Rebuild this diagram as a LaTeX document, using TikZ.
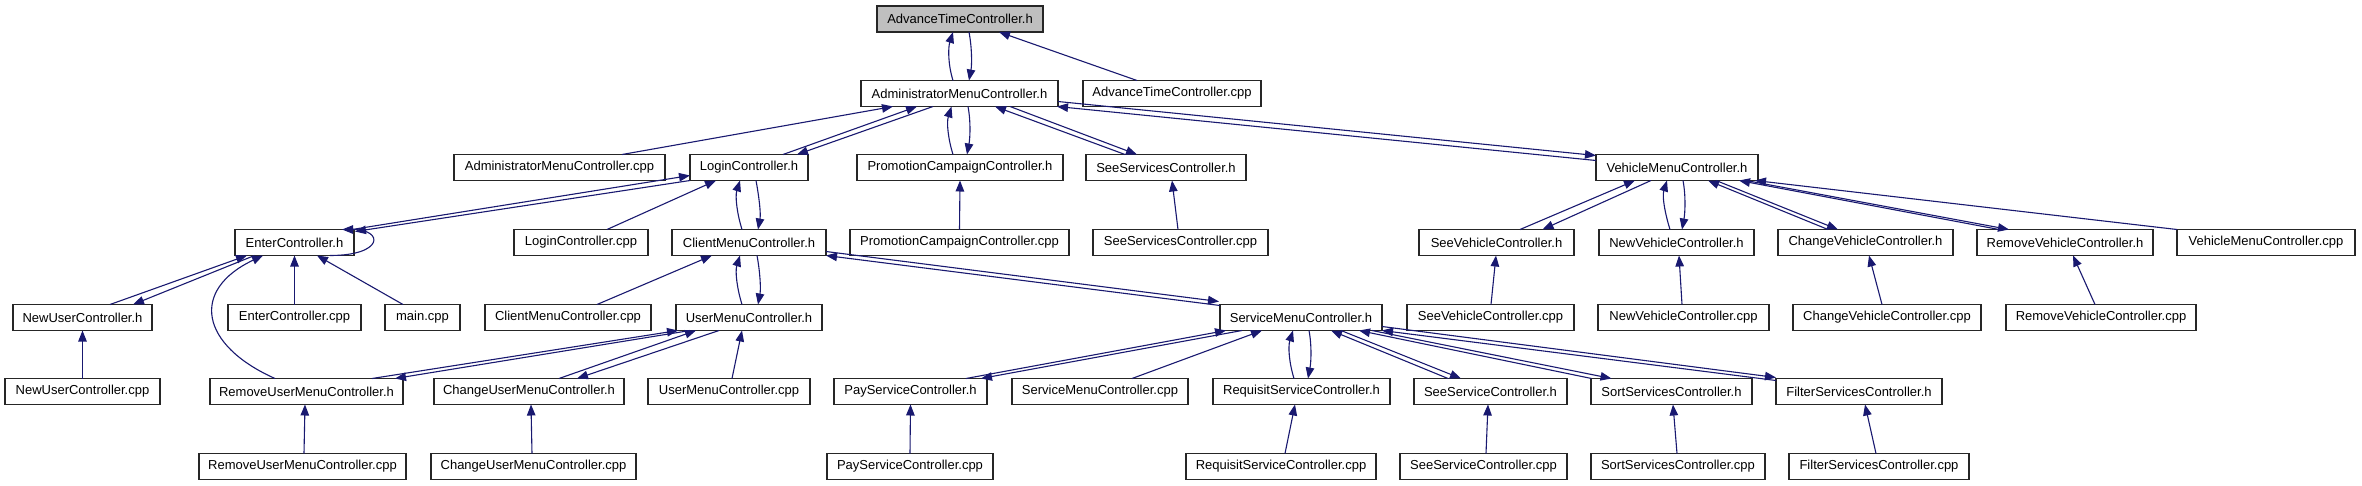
\documentclass[tikz,border=0pt]{standalone}
\usepackage{fontspec}
\setmainfont{Liberation Sans}
\usetikzlibrary{arrows.meta,calc}
\definecolor{edgeblue}{HTML}{191970}
\definecolor{boxgray}{HTML}{BFBFBF}
\begin{document}
\begin{tikzpicture}[x=1pt,y=-1pt,
  box/.style={draw=black!85,line width=1.2pt,fill=white,rectangle,minimum height=26pt,inner sep=0pt,outer sep=0pt,font=\fontsize{13}{15}\selectfont},
  edge/.style={draw=edgeblue,line width=1.1pt,-{Triangle[length=11pt,width=8.5pt]}}]
\useasboundingbox[fill=white] (0,0) rectangle (2362,485);
% row 1
\node[box,minimum width=166pt,fill=boxgray] (AT_h) at (960,19) {AdvanceTimeController.h};
% row 2
\node[box,minimum width=197pt] (AM_h) at (959.5,93.5) {AdministratorMenuController.h};
\node[box,minimum width=178pt] (ATc) at (1172,93.5) {AdvanceTimeController.cpp};
% row 3
\node[box,minimum width=211pt] (AMc) at (559.5,167.5) {AdministratorMenuController.cpp};
\node[box,minimum width=118pt] (LG_h) at (749,167.5) {LoginController.h};
\node[box,minimum width=206pt] (PC_h) at (960,167.5) {PromotionCampaignController.h};
\node[box,minimum width=160pt] (SS_h) at (1166,167.5) {SeeServicesController.h};
\node[box,minimum width=162pt] (VM_h) at (1677,167.5) {VehicleMenuController.h};
% row 4
\node[box,minimum width=119pt] (EN_h) at (294.5,242.5) {EnterController.h};
\node[box,minimum width=134pt] (LGc) at (581,242.5) {LoginController.cpp};
\node[box,minimum width=154pt] (CM_h) at (749,242.5) {ClientMenuController.h};
\node[box,minimum width=219pt] (PCc) at (959.5,242.5) {PromotionCampaignController.cpp};
\node[box,minimum width=175pt] (SSc) at (1180.5,242.5) {SeeServicesController.cpp};
\node[box,minimum width=155pt] (SV_h) at (1496.5,242.5) {SeeVehicleController.h};
\node[box,minimum width=155pt] (NV_h) at (1676.5,242.5) {NewVehicleController.h};
\node[box,minimum width=175pt] (CV_h) at (1865.5,242.5) {ChangeVehicleController.h};
\node[box,minimum width=176pt] (RV_h) at (2065,242.5) {RemoveVehicleController.h};
\node[box,minimum width=178pt] (VMc) at (2266,242.5) {VehicleMenuController.cpp};
% row 5
\node[box,minimum width=139pt] (NU_h) at (82.5,317.5) {NewUserController.h};
\node[box,minimum width=133pt] (ENc) at (294.5,317.5) {EnterController.cpp};
\node[box,minimum width=75pt] (MAIN) at (422.5,317.5) {main.cpp};
\node[box,minimum width=166pt] (CMc) at (568,317.5) {ClientMenuController.cpp};
\node[box,minimum width=146pt] (UM_h) at (749,317.5) {UserMenuController.h};
\node[box,minimum width=162pt] (SM_h) at (1301,317.5) {ServiceMenuController.h};
\node[box,minimum width=167pt] (SVc) at (1490.5,317.5) {SeeVehicleController.cpp};
\node[box,minimum width=171pt] (NVc) at (1683.5,317.5) {NewVehicleController.cpp};
\node[box,minimum width=188pt] (CVc) at (1887,317.5) {ChangeVehicleController.cpp};
\node[box,minimum width=190pt] (RVc) at (2101,317.5) {RemoveVehicleController.cpp};
% row 6
\node[box,minimum width=155pt] (NUc) at (82.5,391.5) {NewUserController.cpp};
\node[box,minimum width=193pt] (RUM_h) at (306.5,391.5) {RemoveUserMenuController.h};
\node[box,minimum width=190pt] (CUM_h) at (529,391.5) {ChangeUserMenuController.h};
\node[box,minimum width=162pt] (UMc) at (729,391.5) {UserMenuController.cpp};
\node[box,minimum width=153pt] (PS_h) at (910.5,391.5) {PayServiceController.h};
\node[box,minimum width=176pt] (SMc) at (1100,391.5) {ServiceMenuController.cpp};
\node[box,minimum width=177pt] (RS_h) at (1301.5,391.5) {RequisitServiceController.h};
\node[box,minimum width=153pt] (SE_h) at (1490.5,391.5) {SeeServiceController.h};
\node[box,minimum width=161pt] (SO_h) at (1671.5,391.5) {SortServicesController.h};
\node[box,minimum width=166pt] (FI_h) at (1859,391.5) {FilterServicesController.h};
% row 7
\node[box,minimum width=207pt] (RUMc) at (302.5,466.5) {RemoveUserMenuController.cpp};
\node[box,minimum width=205pt] (CUMc) at (533.5,466.5) {ChangeUserMenuController.cpp};
\node[box,minimum width=166pt] (PSc) at (910,466.5) {PayServiceController.cpp};
\node[box,minimum width=190pt] (RSc) at (1281,466.5) {RequisitServiceController.cpp};
\node[box,minimum width=167pt] (SEc) at (1483.5,466.5) {SeeServiceController.cpp};
\node[box,minimum width=174pt] (SOc) at (1678,466.5) {SortServicesController.cpp};
\node[box,minimum width=180pt] (FIc) at (1879,466.5) {FilterServicesController.cpp};

% ---- edges ----
% AdvanceTime / AdministratorMenu
\draw[edge] ($(AM_h.north)+(-6.5,0)$) .. controls +(-5,-16) and +(-5,16) .. ($(AT_h.south)+(-7,0)$);
\draw[edge] ($(AT_h.south)+(9,0)$) .. controls +(3,16) and +(3,-16) .. ($(AM_h.north)+(9.5,0)$);
\draw[edge] ($(ATc.north)+(-35,0)$) -- ($(AT_h.south)+(39,0)$);
% into AdministratorMenu
\draw[edge] ($(AMc.north)+(62.5,0)$) -- ($(AM_h.south)+(-66.5,0)$);
\draw[edge] ($(LG_h.north)+(34,0)$) -- ($(AM_h.south)+(-42.5,0)$);
\draw[edge] ($(AM_h.south)+(-26.5,0)$) -- ($(LG_h.north)+(48,0)$);
\draw[edge] ($(PC_h.north)+(-7,0)$) .. controls +(-5,-16) and +(-5,16) .. ($(AM_h.south)+(-8,0)$);
\draw[edge] ($(AM_h.south)+(8.5,0)$) .. controls +(3,16) and +(3,-16) .. ($(PC_h.north)+(7,0)$);
\draw[edge] ($(SS_h.north)+(-41,0)$) -- ($(AM_h.south)+(35.5,0)$);
\draw[edge] ($(AM_h.south)+(50.5,0)$) -- ($(SS_h.north)+(-29,0)$);
\draw[edge] ($(VM_h.north west)+(0,6)$) -- ($(AM_h.south east)+(-1,0)$);
\draw[edge] ($(AM_h.south east)+(0,-5)$) -- ($(VM_h.north west)+(0,1)$);
\draw[edge] (PCc.north) -- (PC_h.south);
\draw[edge] ($(SSc.north)+(-2.5,0)$) -- ($(SS_h.south)+(6,0)$);
% Login
\draw[edge] ($(EN_h.north east)+(-2,0)$) -- ($(LG_h.south west)+(0,-5)$);
\draw[edge] ($(LG_h.south west)+(0,0)$) -- ($(EN_h.north east)+(1,2)$);
\draw[edge] ($(LGc.north)+(26,0)$) -- ($(LG_h.south)+(-33,0)$);
\draw[edge] ($(CM_h.north)+(-7,0)$) .. controls +(-5,-16) and +(-5,16) .. ($(LG_h.south)+(-9,0)$);
\draw[edge] ($(LG_h.south)+(7,0)$) .. controls +(3,16) and +(3,-16) .. ($(CM_h.north)+(9,0)$);
% Enter
\draw[edge] ($(EN_h.south east)+(-24,0)$) .. controls +(54,0) and +(42,0) .. ($(EN_h.north east)+(-12,0)$);
\draw[edge] ($(NU_h.north)+(27.5,0)$) -- ($(EN_h.south)+(-47.5,0)$);
\draw[edge] ($(EN_h.south)+(-40,0)$) -- ($(NU_h.north)+(50.5,0)$);
\draw[edge] (ENc.north) -- (EN_h.south);
\draw[edge] ($(MAIN.north)+(-19.5,0)$) -- ($(EN_h.south)+(22.5,0)$);
\draw[edge] ($(RUM_h.north)+(-31.5,0)$) .. controls (200,345) and (190,290) .. ($(EN_h.south)+(-31.5,0)$);
\draw[edge] (NUc.north) -- (NU_h.south);
% ClientMenu
\draw[edge] ($(CMc.north)+(29,0)$) -- ($(CM_h.south)+(-37,0)$);
\draw[edge] ($(UM_h.north)+(-7,0)$) .. controls +(-5,-16) and +(-5,16) .. ($(CM_h.south)+(-9,0)$);
\draw[edge] ($(CM_h.south)+(8,0)$) .. controls +(3,16) and +(3,-16) .. ($(UM_h.north)+(9,0)$);
\draw[edge] ($(SM_h.north west)+(0,1)$) -- (CM_h.south east);
\draw[edge] ($(CM_h.south east)+(0,-4)$) -- ($(SM_h.north west)+(-1,-3)$);
% UserMenu
\draw[edge] ($(RUM_h.north)+(65.5,0)$) -- ($(UM_h.south west)+(2,0)$);
\draw[edge] ($(UM_h.south)+(-59,0)$) -- ($(RUM_h.north)+(88.5,0)$);
\draw[edge] ($(CUM_h.north)+(30,0)$) -- ($(UM_h.south)+(-53,0)$);
\draw[edge] ($(UM_h.south)+(-30,0)$) -- ($(CUM_h.north)+(48,0)$);
\draw[edge] ($(UMc.north)+(3,0)$) -- ($(UM_h.south)+(-7,0)$);
\draw[edge] ($(RUMc.north)+(1.5,0)$) -- ($(RUM_h.south)+(-1.5,0)$);
\draw[edge] ($(CUMc.north)+(-1.5,0)$) -- ($(CUM_h.south)+(2,0)$);
% ServiceMenu
\draw[edge] ($(PS_h.north)+(55.5,0)$) -- ($(SM_h.south)+(-75,0)$);
\draw[edge] ($(SM_h.south)+(-59,0)$) -- ($(PS_h.north)+(70.5,0)$);
\draw[edge] ($(SMc.north)+(32,0)$) -- ($(SM_h.south)+(-39,0)$);
\draw[edge] ($(RS_h.north)+(-7.5,0)$) .. controls +(-5,-16) and +(-5,16) .. ($(SM_h.south)+(-8,0)$);
\draw[edge] ($(SM_h.south)+(8,0)$) .. controls +(3,16) and +(3,-16) .. ($(RS_h.north)+(6.5,0)$);
\draw[edge] ($(SE_h.north)+(-42.5,0)$) -- ($(SM_h.south)+(30,0)$);
\draw[edge] ($(SM_h.south)+(40,0)$) -- ($(SE_h.north)+(-29.5,0)$);
\draw[edge] ($(SO_h.north)+(-80,0)$) -- ($(SM_h.south)+(58,0)$);
\draw[edge] ($(SM_h.south)+(71,0)$) -- ($(SO_h.north)+(-60,0)$);
\draw[edge] ($(FI_h.north west)+(0,2)$) -- (SM_h.south east);
\draw[edge] ($(SM_h.south east)+(0,-4)$) -- ($(FI_h.north west)+(0,-1)$);
\draw[edge] (PSc.north) -- (PS_h.south);
\draw[edge] ($(RSc.north)+(4,0)$) -- ($(RS_h.south)+(-6.5,0)$);
\draw[edge] ($(SEc.north)+(2.5,0)$) -- ($(SE_h.south)+(-2.5,0)$);
\draw[edge] ($(SOc.north)+(-1,0)$) -- ($(SO_h.south)+(1.5,0)$);
\draw[edge] ($(FIc.north)+(-3,0)$) -- ($(FI_h.south)+(6,0)$);
% VehicleMenu
\draw[edge] ($(SV_h.north)+(23.5,0)$) -- ($(VM_h.south)+(-42,0)$);
\draw[edge] ($(VM_h.south)+(-26,0)$) -- ($(SV_h.north)+(46,0)$);
\draw[edge] ($(NV_h.north)+(-6.5,0)$) .. controls +(-5,-16) and +(-5,16) .. ($(VM_h.south)+(-10,0)$);
\draw[edge] ($(VM_h.south)+(6,0)$) .. controls +(3,16) and +(3,-16) .. ($(NV_h.north)+(5.5,0)$);
\draw[edge] ($(CV_h.north)+(-37.5,0)$) -- ($(VM_h.south)+(31,0)$);
\draw[edge] ($(VM_h.south)+(39,0)$) -- ($(CV_h.north)+(-27.5,0)$);
\draw[edge] ($(RV_h.north)+(-66,0)$) -- ($(VM_h.south)+(62,0)$);
\draw[edge] ($(VM_h.south)+(69,0)$) -- ($(RV_h.north)+(-56,0)$);
\draw[edge] (VMc.north west) -- ($(VM_h.south east)+(-3,0)$);
\draw[edge] ($(SVc.north)+(0.5,0)$) -- ($(SV_h.south)+(-0.5,0)$);
\draw[edge] ($(NVc.north)+(-1.5,0)$) -- ($(NV_h.south)+(2.5,0)$);
\draw[edge] ($(CVc.north)+(-5,0)$) -- ($(CV_h.south)+(3.5,0)$);
\draw[edge] ($(RVc.north)+(-6,0)$) -- ($(RV_h.south)+(8,0)$);
\end{tikzpicture}
\end{document}
